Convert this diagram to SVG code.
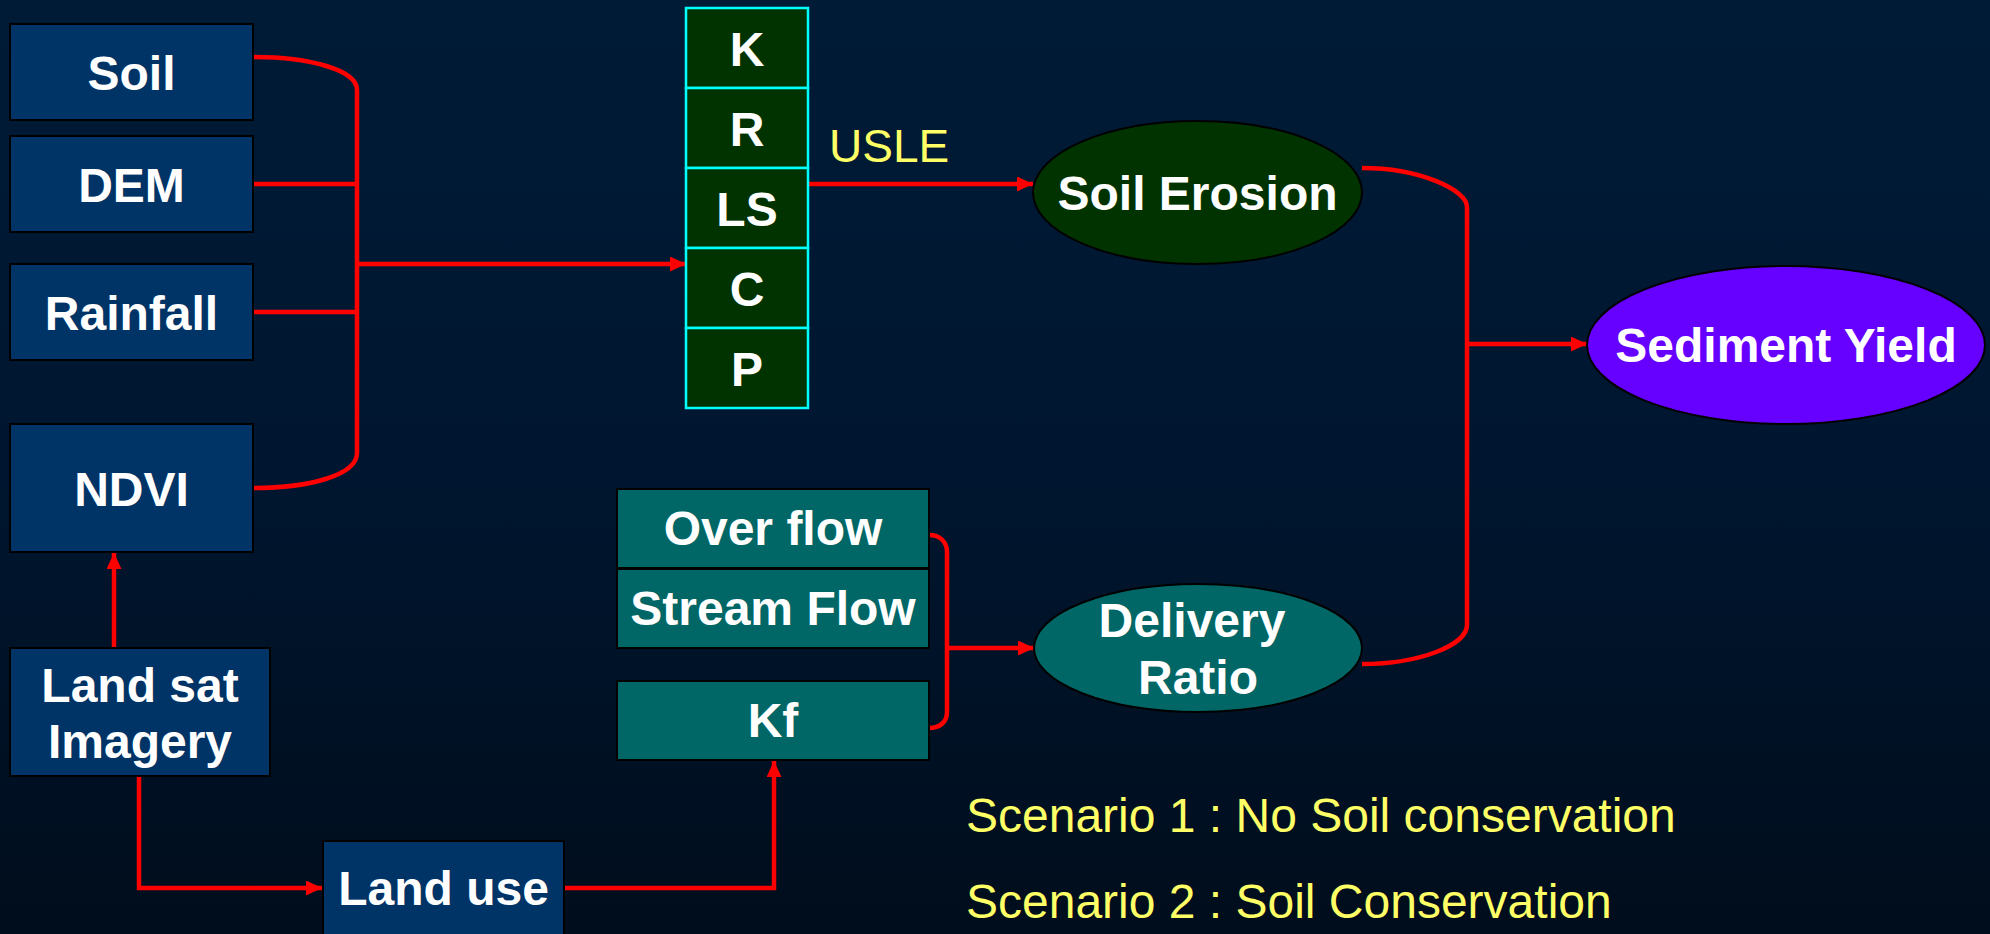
<svg xmlns="http://www.w3.org/2000/svg" width="1990" height="934" viewBox="0 0 1990 934">
<defs>
<linearGradient id="bg" x1="0" y1="0" x2="0" y2="1">
<stop offset="0" stop-color="#001b36"/>
<stop offset="0.5" stop-color="#001630"/>
<stop offset="1" stop-color="#000d1c"/>
</linearGradient>
<marker id="ah" markerUnits="userSpaceOnUse" markerWidth="18" markerHeight="16" refX="16" refY="7.5" orient="auto">
<path d="M0,0 L16,7.5 L0,15 z" fill="#ff0000"/>
</marker>
<style>
.nb{fill:#003366;stroke:#000000;stroke-width:2}
.cell{fill:#003300;stroke:#00ffff;stroke-width:2.5}
.tl{fill:#006666;stroke:#000000;stroke-width:2}
.t{font-family:"Liberation Sans",Arial,sans-serif;font-weight:bold;font-size:48px;fill:#ffffff;text-anchor:middle}
.y{font-family:"Liberation Sans",Arial,sans-serif;font-size:48px;fill:#ffff66}
.c{fill:none;stroke:#ff0000;stroke-width:4.5}
</style>
</defs>
<rect x="0" y="0" width="1990" height="934" fill="url(#bg)"/>

<g id="connectors">
<path class="c" d="M253,57 C310,57 357,70 357,90 L357,453 C357,475 310,488 253,488"/>
<path class="c" d="M253,184 L357,184"/>
<path class="c" d="M253,312 L357,312"/>
<path class="c" d="M357,264 L686,264" marker-end="url(#ah)"/>
<path class="c" d="M808,184 L1033,184" marker-end="url(#ah)"/>
<path class="c" d="M1362,168 C1420,168 1467,190 1467,207 L1467,625 C1467,645 1420,664 1362,664"/>
<path class="c" d="M1467,344 L1587,344" marker-end="url(#ah)"/>
<path class="c" d="M929,535 C940,535 947,542 947,552 L947,712 C947,722 940,728 929,728"/>
<path class="c" d="M947,648 L1034,648" marker-end="url(#ah)"/>
<path class="c" d="M114,648 L114,553" marker-end="url(#ah)"/>
<path class="c" d="M139,776 L139,888 L322,888" marker-end="url(#ah)"/>
<path class="c" d="M564,888 L774,888 L774,761" marker-end="url(#ah)"/>
</g>

<g id="soil"><rect class="nb" x="10" y="24" width="243" height="96"/><text class="t" x="131.5" y="90">Soil</text></g>
<g id="dem"><rect class="nb" x="10" y="136" width="243" height="96"/><text class="t" x="131.5" y="202">DEM</text></g>
<g id="rainfall"><rect class="nb" x="10" y="264" width="243" height="96"/><text class="t" x="131.5" y="330">Rainfall</text></g>
<g id="ndvi"><rect class="nb" x="10" y="424" width="243" height="128"/><text class="t" x="131.5" y="506">NDVI</text></g>
<g id="landsat"><rect class="nb" x="10" y="648" width="260" height="128"/><text class="t" x="140" y="702">Land sat</text><text class="t" x="140" y="758">Imagery</text></g>
<g id="landuse"><rect class="nb" x="323" y="841" width="241" height="100"/><text class="t" x="443.5" y="905">Land use</text></g>

<g id="usle-factors">
<rect class="cell" x="686" y="8" width="122" height="80"/><text class="t" x="747" y="66">K</text>
<rect class="cell" x="686" y="88" width="122" height="80"/><text class="t" x="747" y="146">R</text>
<rect class="cell" x="686" y="168" width="122" height="80"/><text class="t" x="747" y="226">LS</text>
<rect class="cell" x="686" y="248" width="122" height="80"/><text class="t" x="747" y="306">C</text>
<rect class="cell" x="686" y="328" width="122" height="80"/><text class="t" x="747" y="386">P</text>
</g>
<g id="usle-label"><text class="y" x="829" y="162" style="font-size:46px">USLE</text></g>

<g id="soil-erosion"><ellipse cx="1197.5" cy="192.5" rx="164.5" ry="71.5" fill="#003300" stroke="#000000" stroke-width="2"/><text class="t" x="1197.5" y="210">Soil Erosion</text></g>
<g id="sediment-yield"><ellipse cx="1786" cy="345" rx="199" ry="79" fill="#6600ff" stroke="#000000" stroke-width="2"/><text class="t" x="1786" y="362">Sediment Yield</text></g>

<g id="overflow"><rect class="tl" x="617" y="489" width="312" height="79"/><text class="t" x="773" y="545">Over flow</text></g>
<g id="streamflow"><rect class="tl" x="617" y="569" width="312" height="79"/><text class="t" x="773" y="625">Stream Flow</text></g>
<g id="kf"><rect class="tl" x="617" y="681" width="312" height="79"/><text class="t" x="773" y="737">Kf</text></g>
<g id="delivery-ratio"><ellipse cx="1198" cy="648" rx="164" ry="64" fill="#006666" stroke="#000000" stroke-width="2"/><text class="t" x="1192" y="637">Delivery</text><text class="t" x="1198" y="694">Ratio</text></g>

<g id="scenarios">
<text class="y" x="966" y="832">Scenario 1 : No Soil conservation</text>
<text class="y" x="966" y="918">Scenario 2 : Soil Conservation</text>
</g>
</svg>
